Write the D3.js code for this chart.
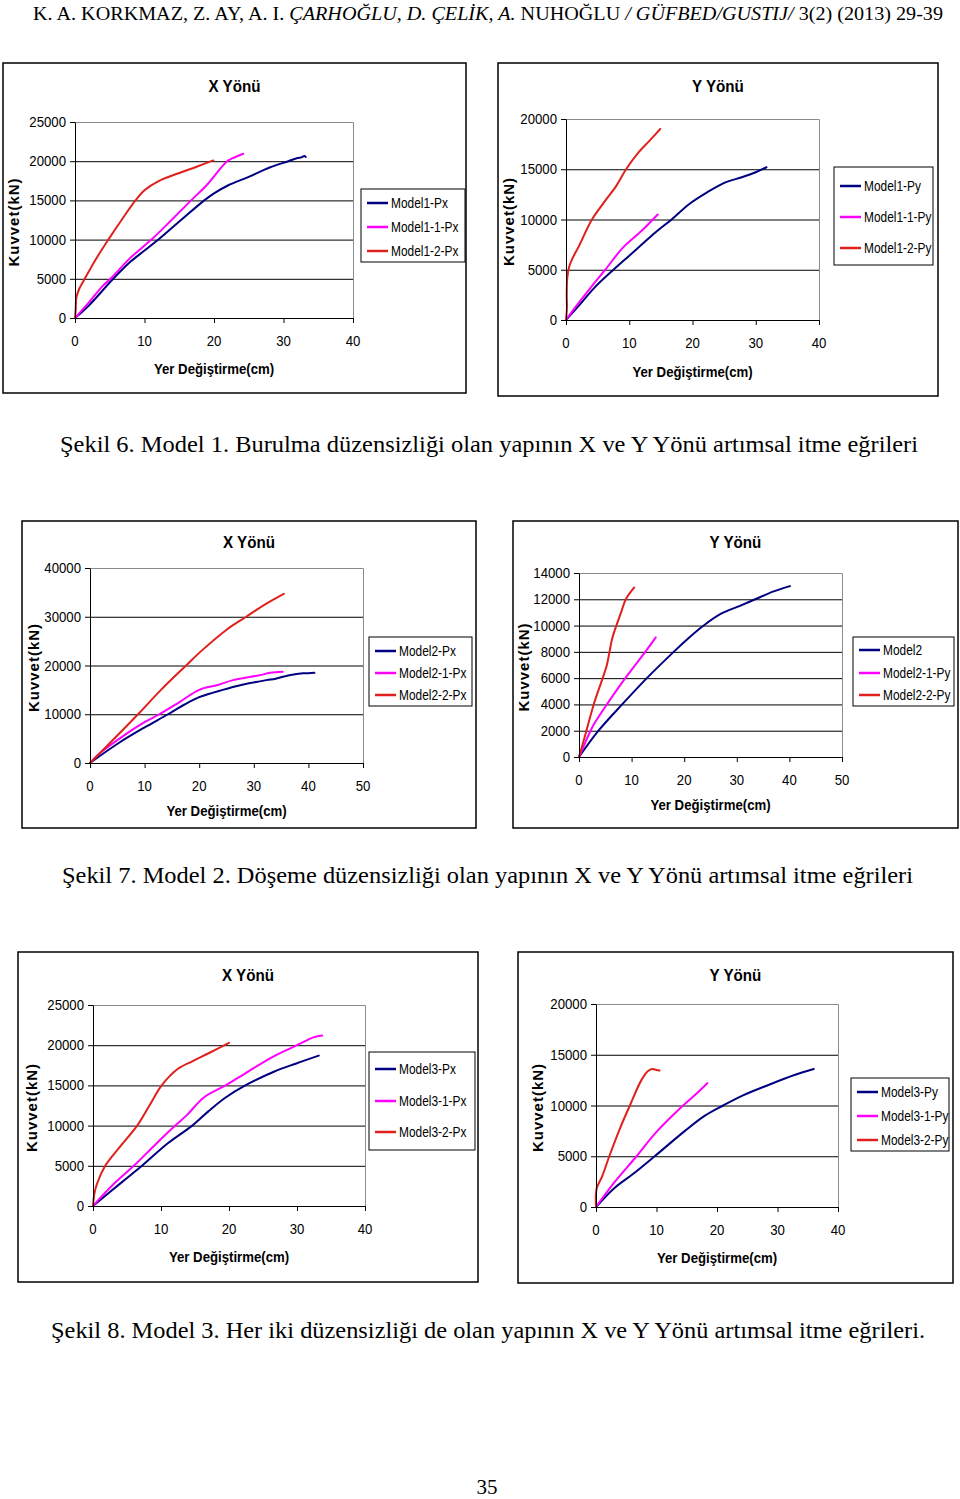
<!DOCTYPE html>
<html><head><meta charset="utf-8">
<script src="https://cdn.jsdelivr.net/npm/d3@7"></script>
<style>body{margin:0;background:#fff}svg{display:block}</style>
</head><body>
<svg id="page" width="960" height="1499"></svg>
<script>
// ---------------- DATA ----------------
const xTicks40 = [0, 10, 20, 30, 40];
const xTicks50 = [0, 10, 20, 30, 40, 50];
const yTicks25k = [0, 5000, 10000, 15000, 20000, 25000];
const yTicks20k = [0, 5000, 10000, 15000, 20000];
const yTicks40k = [0, 10000, 20000, 30000, 40000];
const yTicks14k = [0, 2000, 4000, 6000, 8000, 10000, 12000, 14000];

// Model 1 – X
const m1px  = [[0,0],[2,1600],[5.5,5000],[8,7200],[10,8600],[12,10000],[15,12300],[18.6,15000],[20,15900],[22,16900],[25,18000],[28,19200],[30.7,20000],[32,20400],[32.6,20500],[33,20650],[33.2,20550]];
const m11px = [[0,0],[2,2000],[4,4100],[5.1,5000],[8,7700],[11,10000],[14,12600],[16.7,15000],[19,17000],[21.9,20000],[23,20500],[24.2,20950]];
const m12px = [[0,0],[0.1,1200],[0.2,2600],[0.6,3700],[1.4,5000],[3,7500],[4.8,10000],[6.7,12500],[8.7,15000],[10,16300],[12.1,17500],[15,18500],[17.5,19300],[19.9,20100]];
// Model 1 – Y
const m1py  = [[0,0],[2,1400],[4.4,3150],[7.5,5000],[10,6400],[12.5,7800],[14.5,8900],[16.7,10000],[19.4,11500],[22.3,12700],[25.2,13700],[27.8,14200],[30,14700],[31.7,15200]];
const m11py = [[0,0],[2,1700],[4,3300],[6.2,5000],[9,7200],[12,8900],[14.5,10500]];
const m12py = [[0,0],[0.15,1200],[0.12,2500],[0.2,4200],[0.5,5300],[1,6100],[2,7300],[4.1,10000],[6,11700],[8,13400],[9.5,15000],[11.5,16700],[13,17700],[14.9,19000]];
// Model 2 – X
const m2px  = [[0,0],[5.4,4200],[10,7300],[14.3,10000],[17.3,12000],[20,13500],[24.3,15000],[27.7,16000],[32.3,17000],[34,17300],[36.5,18000],[39,18400],[40,18400],[41.1,18500]];
const m21px = [[0,0],[2,2200],[5.4,5000],[8,7000],[10,8400],[12.7,10000],[16.4,12500],[20,15000],[23.4,16000],[26.2,17000],[31,18000],[33,18500],[35.3,18700]];
const m22px = [[0,0],[4,4500],[8.8,10000],[13,15000],[17.6,20000],[20.4,23000],[25.2,27500],[28.6,30000],[32,32500],[35.5,34700]];
// Model 2 – Y
const m2py  = [[0,0],[3.7,2000],[8.2,4000],[12.9,6000],[18,8000],[20.7,9000],[23.7,10000],[27,10900],[30.6,11500],[33.5,12000],[37,12600],[40.1,13000]];
const m21py = [[0,0],[2.2,2000],[3,2600],[5.3,4000],[8.8,6000],[12.6,8000],[14.6,9100]];
const m22py = [[0,0],[1,1400],[2.8,4000],[4.5,6000],[5.3,7000],[5.8,8000],[6.3,9000],[7.1,10000],[8,11000],[8.9,12000],[10.5,12900]];
// Model 3 – X
const m3px  = [[0,0],[4.3,3000],[7.2,5000],[11,7800],[14.6,10000],[17,11800],[19.5,13500],[22.4,15000],[26.6,16700],[29.8,17700],[33.2,18700]];
const m31px = [[0,0],[3,2700],[6,5000],[9,7500],[12.1,10000],[13.8,11300],[16.3,13500],[19.5,15000],[22.4,16500],[26.3,18500],[30,20000],[32.5,21000],[33.7,21200]];
const m32px = [[0,0],[0.2,1500],[0.6,2800],[1.8,5000],[4.1,7500],[6.5,10000],[8.3,12500],[10.1,15000],[12.4,17000],[14.6,18000],[17,19000],[20,20300]];
// Model 3 – Y
const m3py  = [[0,0],[3.1,1900],[6,3200],[9.7,5000],[14.7,7500],[18,9000],[21,10000],[24.3,11000],[28.4,12000],[32.8,13000],[36,13600]];
const m31py = [[0,0],[3,2400],[6.7,5000],[10,7400],[14.4,10000],[16.3,11000],[18.4,12200]];
const m32py = [[0,0],[0.1,1800],[1,3000],[2.2,5000],[4,7800],[5.6,10000],[7.5,12500],[8.6,13400],[9.3,13600],[10,13500],[10.5,13450]];

const captions = [
  "Şekil 6. Model 1. Burulma düzensizliği olan yapının X ve Y Yönü artımsal itme eğrileri",
  "Şekil 7. Model 2. Döşeme düzensizliği olan yapının X ve Y Yönü artımsal itme eğrileri",
  "Şekil 8. Model 3. Her iki düzensizliği de olan yapının X ve Y Yönü artımsal itme eğrileri."
];

// ---------------- LAYOUT ----------------
const NAVY = '#000080', MAG = '#ff00ff', RED = '#e0201c';
const SANS = 'Arial, "Liberation Sans", sans-serif';
const SERIF = '"Times New Roman", "Liberation Serif", serif';

const charts = [
  {frame:[3,63,466,393], px:[75,353], py:[318,122], xd:[0,40], xt:xTicks40, yd:[0,25000], yt:yTicks25k,
   title:'X Yönü', titleY:92, xTitleY:374, yTitleX:14,
   leg:{x:361,y:189,w:104,h:73,rows:[203,227,251]},
   series:[['Model1-Px',m1px,NAVY],['Model1-1-Px',m11px,MAG],['Model1-2-Px',m12px,RED]]},
  {frame:[498,63,938,396], px:[566,819], py:[320,119], xd:[0,40], xt:xTicks40, yd:[0,20000], yt:yTicks20k,
   title:'Y Yönü', titleY:92, xTitleY:377, yTitleX:509,
   leg:{x:834,y:167,w:99,h:98,rows:[186,217,248]},
   series:[['Model1-Py',m1py,NAVY],['Model1-1-Py',m11py,MAG],['Model1-2-Py',m12py,RED]]},
  {frame:[22,521,476,828], px:[90,363], py:[763,568], xd:[0,50], xt:xTicks50, yd:[0,40000], yt:yTicks40k,
   title:'X Yönü', titleY:548, xTitleY:816, yTitleX:34,
   leg:{x:369,y:637,w:103,h:69,rows:[651,673,695]},
   series:[['Model2-Px',m2px,NAVY],['Model2-1-Px',m21px,MAG],['Model2-2-Px',m22px,RED]]},
  {frame:[513,521,958,828], px:[579,842], py:[757,573], xd:[0,50], xt:xTicks50, yd:[0,14000], yt:yTicks14k,
   title:'Y Yönü', titleY:548, xTitleY:810, yTitleX:524,
   leg:{x:853,y:637,w:101,h:69,rows:[650,673,695]},
   series:[['Model2',m2py,NAVY],['Model2-1-Py',m21py,MAG],['Model2-2-Py',m22py,RED]]},
  {frame:[18,952,478,1282], px:[93,365], py:[1206,1005], xd:[0,40], xt:xTicks40, yd:[0,25000], yt:yTicks25k,
   title:'X Yönü', titleY:981, xTitleY:1262, yTitleX:32,
   leg:{x:369,y:1052,w:106,h:98,rows:[1069,1101,1132]},
   series:[['Model3-Px',m3px,NAVY],['Model3-1-Px',m31px,MAG],['Model3-2-Px',m32px,RED]]},
  {frame:[518,952,953,1283], px:[596,838], py:[1207,1004], xd:[0,40], xt:xTicks40, yd:[0,20000], yt:yTicks20k,
   title:'Y Yönü', titleY:981, xTitleY:1263, yTitleX:538,
   leg:{x:851,y:1078,w:98,h:73,rows:[1092,1116,1140]},
   series:[['Model3-Py',m3py,NAVY],['Model3-1-Py',m31py,MAG],['Model3-2-Py',m32py,RED]]}
];

const svg = d3.select('#page');
svg.append('rect').attr('width',960).attr('height',1499).attr('fill','#fff');

function htext(g, x, y, s, o) {
  return g.append('text')
    .attr('transform', `translate(${x},${y}) scale(${o.sx||1},1)`)
    .attr('text-anchor', o.anchor || 'start')
    .style('font-family', o.family || SANS)
    .style('font-size', (o.size||14) + 'px')
    .style('font-weight', o.weight || 'normal')
    .attr('fill', '#000')
    .text(s);
}

charts.forEach(c => {
  const g = svg.append('g');
  const [fx0, fy0, fx1, fy1] = c.frame;
  g.append('rect').attr('x',fx0).attr('y',fy0).attr('width',fx1-fx0).attr('height',fy1-fy0)
    .attr('fill','#fff').attr('stroke','#000').attr('stroke-width',1.5);

  const x = d3.scaleLinear().domain(c.xd).range(c.px);
  const y = d3.scaleLinear().domain(c.yd).range(c.py);
  const pw = c.px[1] - c.px[0];

  // gridlines
  g.append('g').attr('transform',`translate(${c.px[0]},0)`)
    .call(d3.axisLeft(y).tickValues(c.yt.slice(1,-1)).tickSize(-pw).tickFormat(''))
    .call(a => { a.select('.domain').remove(); a.selectAll('line').attr('stroke','#000').attr('stroke-width',1); });
  // plot-area border (top/right)
  g.append('path').attr('d',`M${c.px[0]},${c.py[1]+0.5}H${c.px[1]+0.5}V${c.py[0]}`)
    .attr('fill','none').attr('stroke','#8c8c8c').attr('stroke-width',1);

  // series
  const line = d3.line().x(d => x(d[0])).y(d => y(d[1])).curve(d3.curveCatmullRom.alpha(0.5));
  c.series.forEach(s => {
    g.append('path').datum(s[1]).attr('d', line).attr('fill','none')
      .attr('stroke', s[2]).attr('stroke-width', 2).attr('stroke-linejoin','round').attr('stroke-linecap','round');
  });

  // axes
  g.append('g').attr('transform',`translate(${c.px[0]},0)`)
    .call(d3.axisLeft(y).tickValues(c.yt).tickSize(5).tickSizeOuter(0).tickFormat(''))
    .call(a => { a.selectAll('line,path').attr('stroke','#000').attr('stroke-width',1); });
  g.append('g').attr('transform',`translate(0,${c.py[0]})`)
    .call(d3.axisBottom(x).tickValues(c.xt).tickSize(5).tickSizeOuter(0).tickFormat(''))
    .call(a => { a.selectAll('line,path').attr('stroke','#000').attr('stroke-width',1); });

  // tick labels
  c.yt.forEach(v => htext(g, c.px[0]-9, y(v)+5, String(v), {size:15, sx:0.88, anchor:'end'}));
  c.xt.forEach(v => htext(g, x(v), c.py[0]+28, String(v), {size:15, sx:0.88, anchor:'middle'}));

  // titles
  htext(g, (fx0+fx1)/2, c.titleY, c.title, {size:16, weight:'bold', sx:0.95, anchor:'middle'});
  htext(g, (c.px[0]+c.px[1])/2, c.xTitleY, 'Yer Değiştirme(cm)', {size:15, weight:'bold', sx:0.88, anchor:'middle'});
  g.append('text')
    .attr('transform', `translate(${c.yTitleX},${(c.py[0]+c.py[1])/2+2}) rotate(-90)`)
    .attr('text-anchor','middle').attr('dy','0.35em')
    .style('font-family', SANS).style('font-size','15px').style('font-weight','bold')
    .style('letter-spacing','1px')
    .text('Kuvvet(kN)');

  // legend
  const L = c.leg;
  g.append('rect').attr('x',L.x).attr('y',L.y).attr('width',L.w).attr('height',L.h)
    .attr('fill','#fff').attr('stroke','#000').attr('stroke-width',1);
  c.series.forEach((s, i) => {
    const ry = L.rows[i];
    g.append('line').attr('x1',L.x+6).attr('x2',L.x+27).attr('y1',ry).attr('y2',ry)
      .attr('stroke', s[2]).attr('stroke-width', 2.5);
    htext(g, L.x+30, ry+5, s[0], {size:14, sx:0.85});
  });
});

// header
const hdr = svg.append('text').attr('x',33).attr('y',20)
  .attr('textLength', 910).attr('lengthAdjust','spacingAndGlyphs')
  .style('font-family', SERIF).style('font-size','18px').attr('fill','#000');
hdr.append('tspan').text('K. A. KORKMAZ, Z. AY, A. I. ');
hdr.append('tspan').style('font-style','italic').text('ÇARHOĞLU, D. ÇELİK, A.');
hdr.append('tspan').text(' NUHOĞLU  ');
hdr.append('tspan').style('font-style','italic').text('/ GÜFBED/GUSTIJ/');
hdr.append('tspan').text(' 3(2) (2013) 29-39');

// captions
const capPos = [[60,452,858],[62,883,851],[51,1338,874]];
captions.forEach((t, i) => {
  svg.append('text').attr('x',capPos[i][0]).attr('y',capPos[i][1])
    .attr('textLength', capPos[i][2]).attr('lengthAdjust','spacingAndGlyphs')
    .style('font-family', SERIF).style('font-size','23px').attr('fill','#000').text(t);
});

// page number
svg.append('text').attr('x',487).attr('y',1494).attr('text-anchor','middle')
  .style('font-family', SERIF).style('font-size','21px').attr('fill','#000').text('35');
</script>
</body></html>
